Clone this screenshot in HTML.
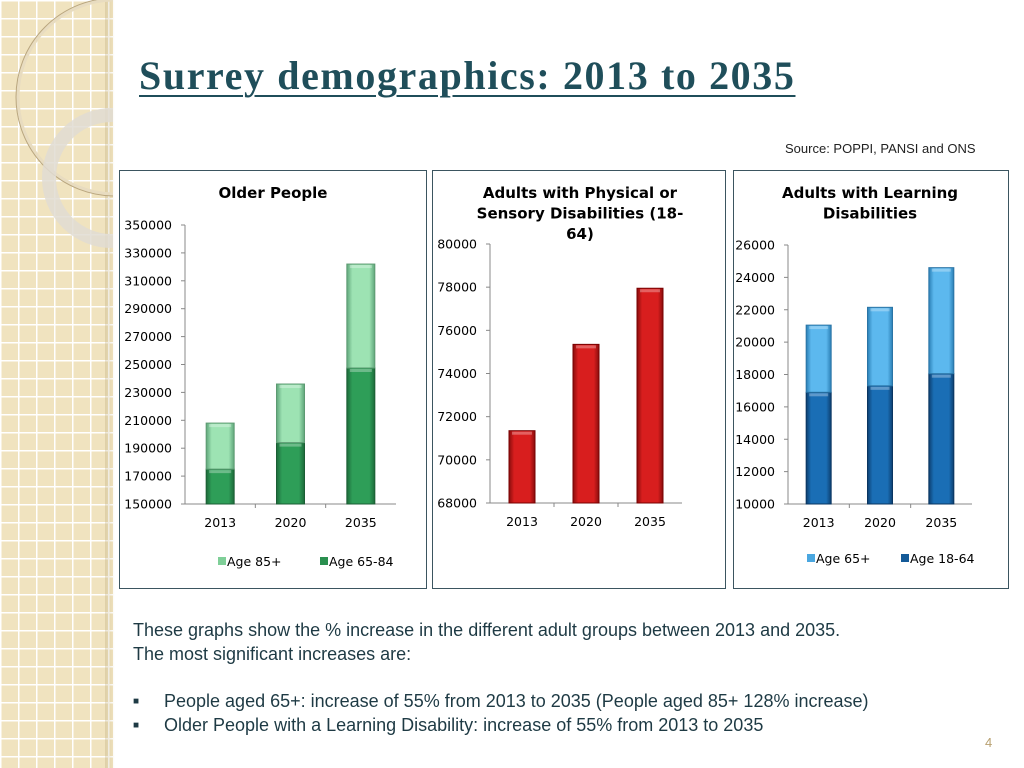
<!DOCTYPE html>
<html><head><meta charset="utf-8">
<style>
body{margin:0;width:1024px;height:768px;position:relative;overflow:hidden;background:#fff;font-family:"Liberation Sans",sans-serif;}
#side{position:absolute;left:0;top:0;width:113px;height:768px;background-color:#f0e3bf;
background-image:linear-gradient(#fff 1.5px,transparent 1.5px),linear-gradient(90deg,#fff 1.5px,transparent 1.5px);background-size:18px 18px;}
#shade{position:absolute;left:105px;top:0;width:10px;height:768px;background:linear-gradient(90deg,rgba(180,160,110,0.3),rgba(255,255,255,0));}
h1{position:absolute;left:139px;top:52px;margin:0;font-family:"Liberation Serif",serif;font-weight:bold;font-size:40px;color:#1f4e5a;text-decoration:underline;text-decoration-thickness:2px;text-underline-offset:6px;letter-spacing:1.6px;white-space:nowrap}
.src{position:absolute;left:785px;top:141px;font-size:13px;color:#222;font-family:"Liberation Sans Narrow","Liberation Sans",sans-serif}
.panel{position:absolute;border:1.5px solid #3b5560;background:#fff;box-sizing:border-box}
.body{position:absolute;left:133px;font-family:"Liberation Sans Narrow","Liberation Sans",sans-serif;font-size:18px;color:#1e3a44}
svg{position:absolute;left:0;top:0}
svg text{font-family:"DejaVu Sans","Liberation Sans",sans-serif}
</style></head><body>
<div id="side"></div>
<div id="shade"></div>
<svg width="113" height="768">
<circle cx="115" cy="97" r="97" fill="none" stroke="#e8dcc0" stroke-width="3"/>
<circle cx="115" cy="97" r="99" fill="none" stroke="#b9a67f" stroke-width="1"/>
<circle cx="112" cy="178" r="63" fill="none" stroke="rgba(225,220,210,0.85)" stroke-width="14"/>
</svg>
<h1>Surrey demographics: 2013 to 2035</h1>
<div class="src">Source: POPPI, PANSI and ONS</div>
<div class="panel" style="left:119px;top:170px;width:308px;height:419px"></div>
<div class="panel" style="left:432px;top:170px;width:294px;height:419px"></div>
<div class="panel" style="left:733px;top:170px;width:276px;height:419px"></div>
<svg id="charts" width="1024" height="768"></svg>
<div class="body" style="top:620px">These graphs show the % increase in the different adult groups between 2013 and 2035.</div>
<div class="body" style="top:644px">The most significant increases are:</div>
<div class="body" style="top:691px;left:133px"><span style="font-size:10px;position:relative;top:-3px">■</span><span style="position:absolute;left:31px;white-space:nowrap">People aged 65+: increase of 55% from 2013 to 2035 (People aged 85+ 128% increase)</span></div>
<div class="body" style="top:715px;left:133px"><span style="font-size:10px;position:relative;top:-3px">■</span><span style="position:absolute;left:31px;white-space:nowrap">Older People with a Learning Disability: increase of 55% from 2013 to 2035</span></div>
<div style="position:absolute;left:985px;top:735px;font-size:13px;color:#b8a070">4</div>
<script>
const years=["2013","2020","2035"];
const olderAge6584=[175000,194000,247500];
const olderAge85=[33000,42000,74500];
const olderTicks=[150000,170000,190000,210000,230000,250000,270000,290000,310000,330000,350000];
const physical=[71350,75350,77950];
const physicalTicks=[68000,70000,72000,74000,76000,78000,80000];
const ldAge1864=[16900,17300,18050];
const ldAge65=[4150,4850,6550];
const ldTicks=[10000,12000,14000,16000,18000,20000,22000,24000,26000];
const NS="http://www.w3.org/2000/svg";
const svg=document.getElementById('charts');
function mk(tag,attrs,parent){const e=document.createElementNS(NS,tag);for(const k in attrs)e.setAttribute(k,attrs[k]);(parent||svg).appendChild(e);return e;}
function txt(s,x,y,size,anchor,weight){const t=mk('text',{x:x,y:y,'font-size':size,'text-anchor':anchor||'start','font-weight':weight||'normal',fill:'#000'});t.textContent=s;return t;}
const defs=mk('defs',{});
function grad(id,c1,c2){const g=mk('linearGradient',{id:id,x1:0,x2:1,y1:0,y2:0},defs);mk('stop',{offset:0,'stop-color':c2},g);mk('stop',{offset:0.2,'stop-color':c1},g);mk('stop',{offset:0.8,'stop-color':c1},g);mk('stop',{offset:1,'stop-color':c2},g);}
grad('gDark','#2e9e58','#1d6a3a');grad('gLight','#9de3b3','#5fa57a');grad('gRed','#d81e1e','#8a0d0d');grad('gBlue','#1a6eb5','#0c3f70');grad('gLBlue','#5cb8ee','#2b7fb5');
function chart(o){
  const y=v=>o.y0-(v-o.min)/(o.max-o.min)*(o.y0-o.y1);
  mk('line',{x1:o.ax,y1:o.y1,x2:o.ax,y2:o.y0,stroke:'#888'});
  mk('line',{x1:o.ax,y1:o.y0,x2:o.ax2,y2:o.y0,stroke:'#888'});
  o.ticks.forEach(t=>{mk('line',{x1:o.ax-4,y1:y(t),x2:o.ax,y2:y(t),stroke:'#888'});
    const e=txt(String(t),o.ax-13,y(t)+4.5,12.5,'end');});
  const step=(o.ax2-o.ax)/years.length;
  for(let i=1;i<years.length;i++)mk('line',{x1:o.ax+step*i,y1:o.y0,x2:o.ax+step*i,y2:o.y0+4,stroke:'#888'});
  years.forEach((yr,i)=>{const cx=o.ax+step*(i+0.5);
    const e=txt(yr,cx,o.y0+23,12.5,'middle');
    let base=o.min;
    o.series.forEach(s=>{
      const v1=(base===o.min)?s.vals[i]:base+s.vals[i];
      const r=mk('rect',{x:cx-o.bw/2,y:y(v1),width:o.bw,height:y(base)-y(v1),fill:'url(#'+s.g+')',stroke:s.edge,'stroke-width':1});
      
      
      mk('rect',{x:cx-o.bw/2+3,y:y(v1)+1,width:o.bw-6,height:3,fill:'rgba(255,255,255,0.3)'});
      base=v1;});
  });
}
chart({ax:185,ax2:396,y0:504,y1:225,min:150000,max:350000,ticks:olderTicks,bw:28,
  series:[{name:'age-65-84',vals:olderAge6584,g:'gDark',edge:'#1b5e34'},{name:'age-85plus',vals:olderAge85,g:'gLight',edge:'#5d9a72'}]});
chart({ax:490,ax2:682,y0:503,y1:244,min:68000,max:80000,ticks:physicalTicks,bw:26,
  series:[{name:'physical',vals:physical,g:'gRed',edge:'#700'}]});
chart({ax:788,ax2:972,y0:504,y1:245,min:10000,max:26000,ticks:ldTicks,bw:25,
  series:[{name:'age-18-64',vals:ldAge1864,g:'gBlue',edge:'#0a3560'},{name:'age-65plus',vals:ldAge65,g:'gLBlue',edge:'#2a74a5'}]});
[["Older People",273,198]].forEach(a=>{const e=txt(a[0],a[1],a[2],15,'middle','bold');});
["Adults with Physical or","Sensory Disabilities (18-","64)"].forEach((s,i)=>{const e=txt(s,580,198+i*20.5,15,'middle','bold');});
["Adults with Learning","Disabilities"].forEach((s,i)=>{const e=txt(s,870,198+i*20.5,15,'middle','bold');});
function legend(x,y,col,label){const r=mk('rect',{x:x,y:y-9,width:8,height:8,fill:col});
  const e=txt(label,x+9,y,12.5,'start');}
legend(218,566,'#7fcf98','Age 85+');legend(320,566,'#2a8f4f','Age 65-84');
legend(807,563,'#4aa7e0','Age 65+');legend(901,563,'#145a98','Age 18-64');
</script>
</body></html>
